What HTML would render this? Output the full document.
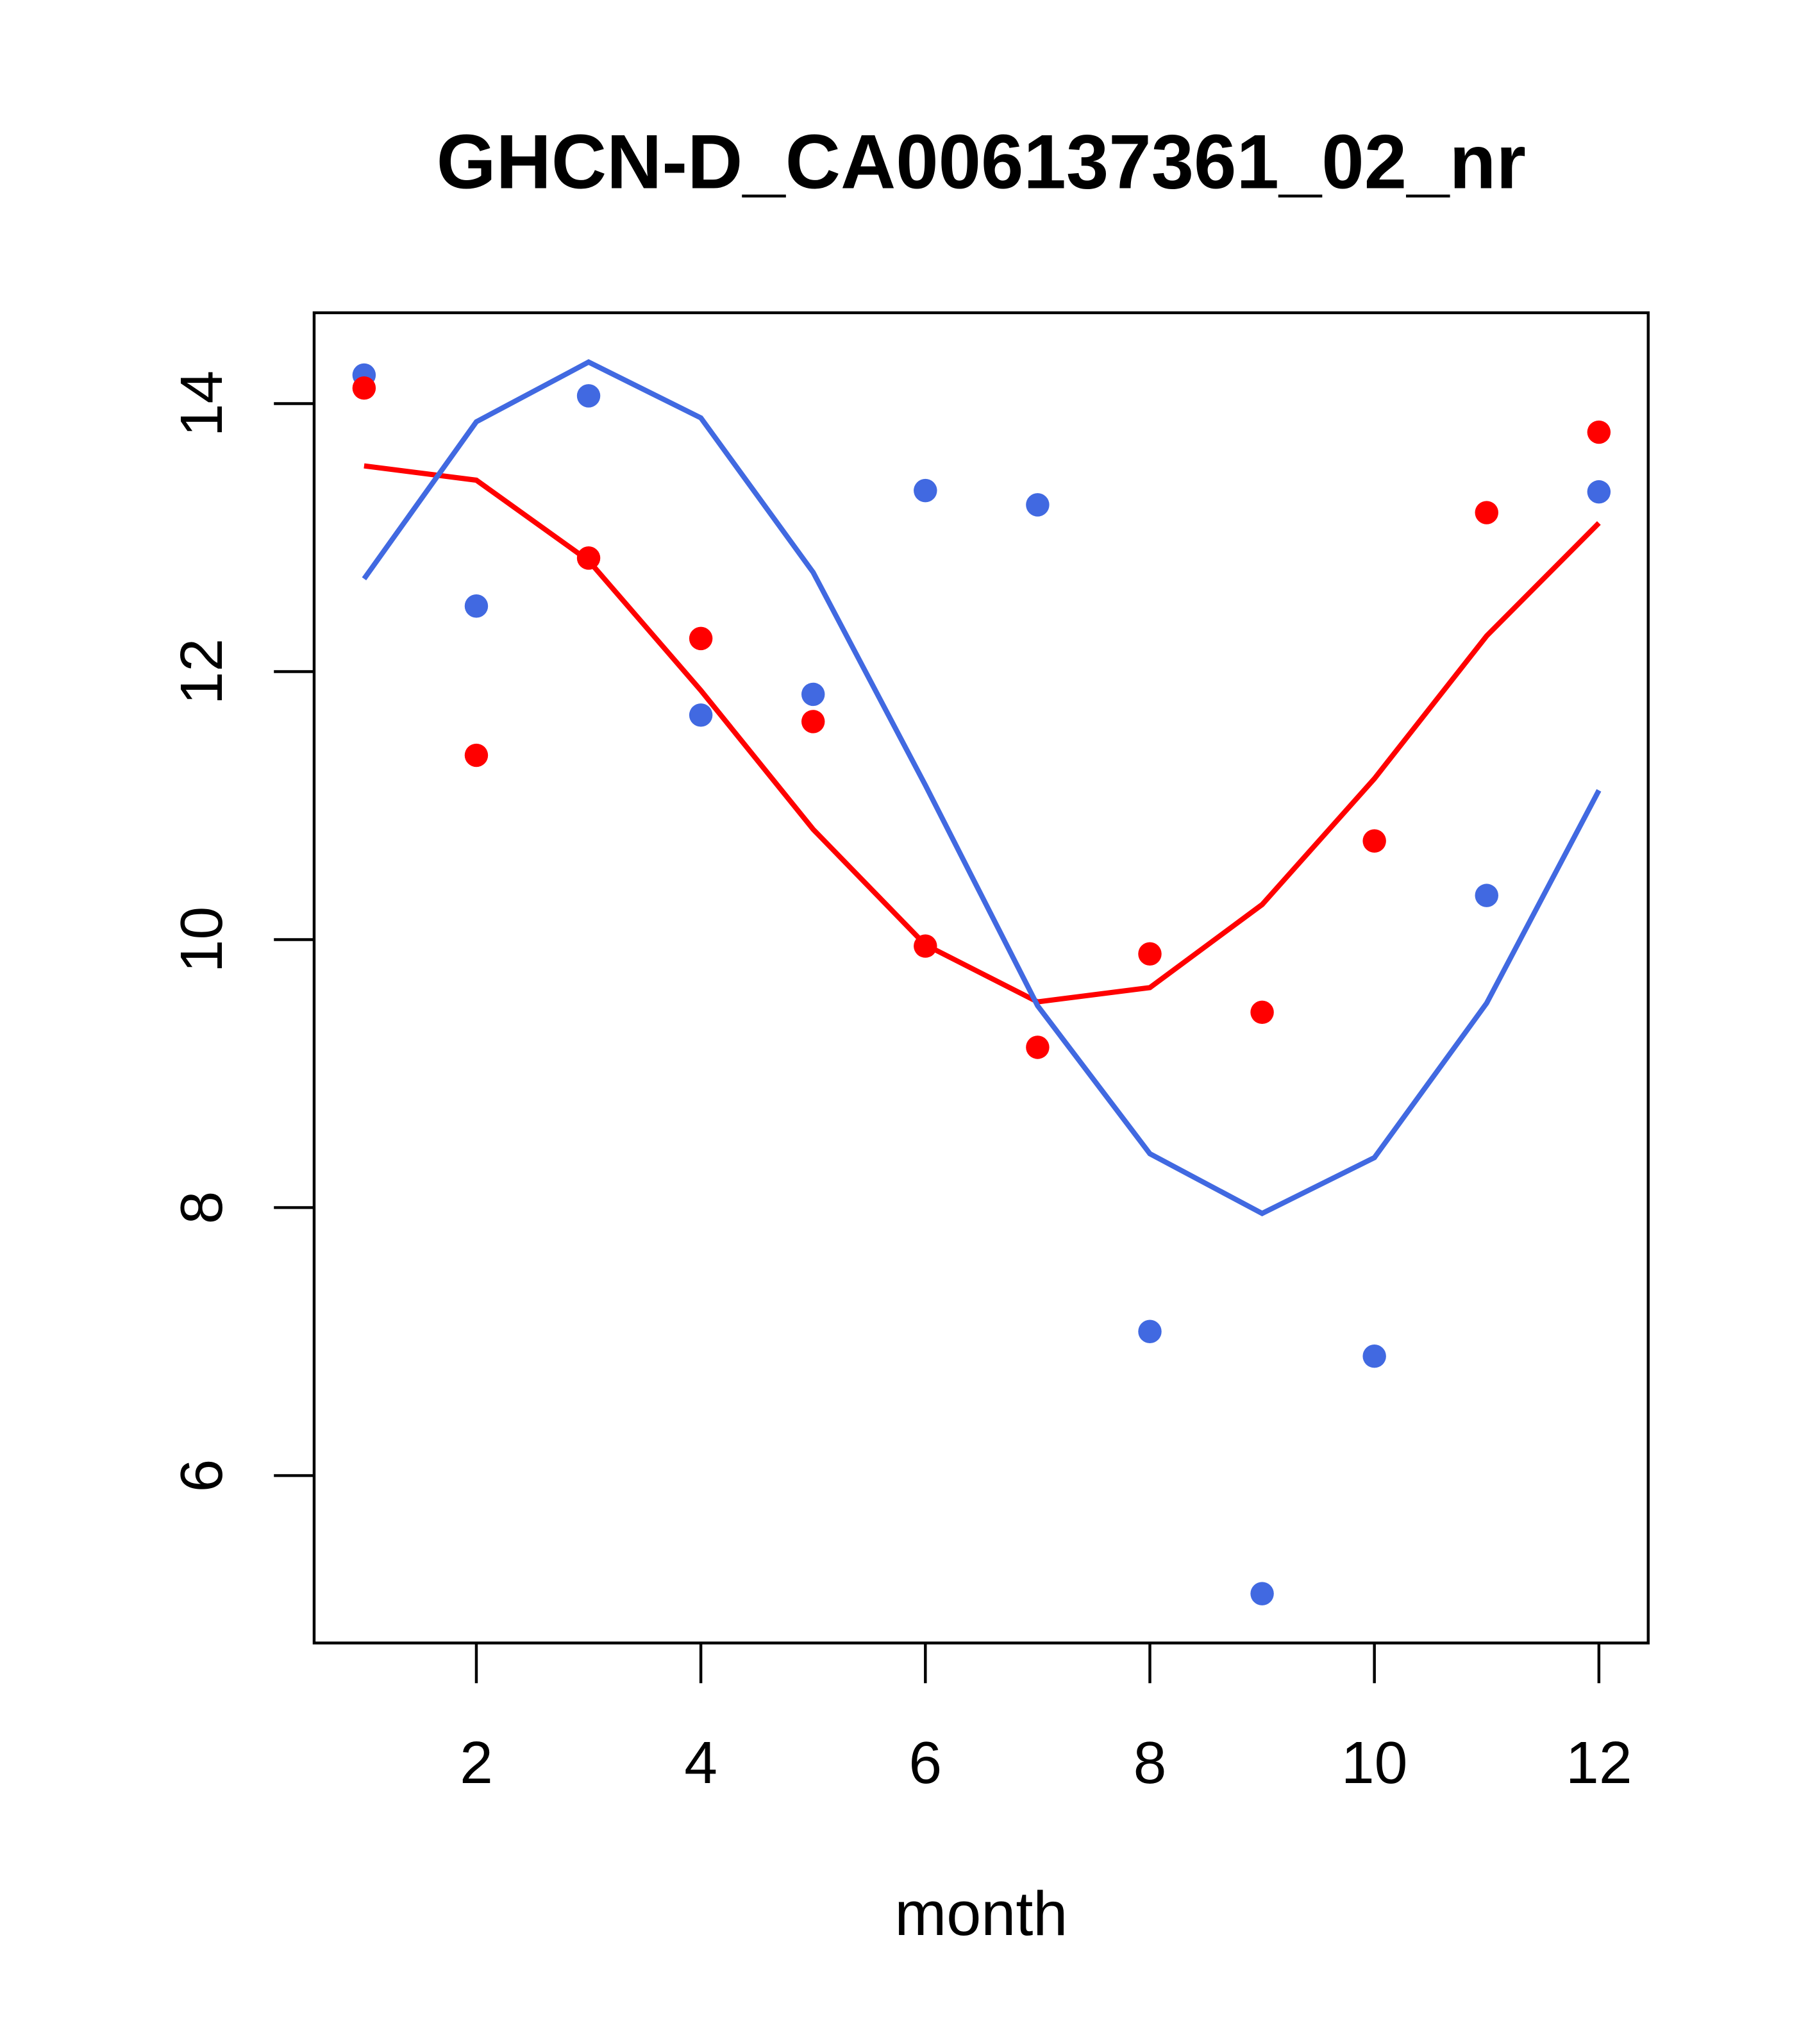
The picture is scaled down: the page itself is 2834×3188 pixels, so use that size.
<!DOCTYPE html>
<html><head><meta charset="utf-8"><style>
html,body{margin:0;padding:0;background:#fff;}
svg{display:block;}
text{font-family:"Liberation Sans",Arial,sans-serif;fill:#000;}
</style></head><body>
<svg width="2834" height="3188" viewBox="0 0 1400 1575" xmlns="http://www.w3.org/2000/svg">
<rect width="1400" height="1575" fill="#fff"/>
<text x="756" y="145" font-size="59" font-weight="bold" text-anchor="middle">GHCN-D_CA006137361_02_nr</text>
<rect x="242" y="241" width="1028" height="1025" fill="none" stroke="#000" stroke-width="2.2"/>
<g stroke="#000" stroke-width="2.2">
<line x1="367" y1="1266" x2="367" y2="1297"/><line x1="540" y1="1266" x2="540" y2="1297"/>
<line x1="713" y1="1266" x2="713" y2="1297"/><line x1="886" y1="1266" x2="886" y2="1297"/>
<line x1="1059" y1="1266" x2="1059" y2="1297"/><line x1="1232" y1="1266" x2="1232" y2="1297"/>
<line x1="242" y1="311" x2="211" y2="311"/><line x1="242" y1="517.5" x2="211" y2="517.5"/>
<line x1="242" y1="724" x2="211" y2="724"/><line x1="242" y1="930.5" x2="211" y2="930.5"/>
<line x1="242" y1="1137" x2="211" y2="1137"/>
</g>
<g font-size="46" text-anchor="middle">
<text x="367" y="1374">2</text><text x="540" y="1374">4</text><text x="713" y="1374">6</text>
<text x="886" y="1374">8</text><text x="1059" y="1374">10</text><text x="1232" y="1374">12</text>
<text transform="translate(171,311) rotate(-90)">14</text>
<text transform="translate(171,517.5) rotate(-90)">12</text>
<text transform="translate(171,724) rotate(-90)">10</text>
<text transform="translate(171,930.5) rotate(-90)">8</text>
<text transform="translate(171,1137) rotate(-90)">6</text>
<text x="756" y="1491" font-size="48">month</text>
</g>
<polyline fill="none" stroke="#ff0000" stroke-width="4" points="280.5,359 367,370 453.5,432 540,532 626.5,639 713,728 799.5,772 886,761 972.5,697 1059,600 1145.5,490 1232,403"/>
<polyline fill="none" stroke="#4169e1" stroke-width="4" points="280.5,446 367,325 453.5,279 540,322 626.5,441 713,605 799.5,775 886,889 972.5,935 1059,892 1145.5,773 1232,609"/>
<g fill="#4169e1">
<circle cx="280.5" cy="289" r="9"/><circle cx="367" cy="467" r="9"/><circle cx="453.5" cy="305" r="9"/>
<circle cx="540" cy="551" r="9"/><circle cx="626.5" cy="535" r="9"/><circle cx="713" cy="378" r="9"/>
<circle cx="799.5" cy="389" r="9"/><circle cx="886" cy="1026" r="9"/><circle cx="972.5" cy="1228" r="9"/>
<circle cx="1059" cy="1045" r="9"/><circle cx="1145.5" cy="690" r="9"/><circle cx="1232" cy="379" r="9"/>
</g>
<g fill="#ff0000">
<circle cx="280.5" cy="299" r="9"/><circle cx="367" cy="582" r="9"/><circle cx="453.5" cy="430" r="9"/>
<circle cx="540" cy="492" r="9"/><circle cx="626.5" cy="556" r="9"/><circle cx="713" cy="729" r="9"/>
<circle cx="799.5" cy="807" r="9"/><circle cx="886" cy="735" r="9"/><circle cx="972.5" cy="780" r="9"/>
<circle cx="1059" cy="648" r="9"/><circle cx="1145.5" cy="395" r="9"/><circle cx="1232" cy="333" r="9"/>
</g>
</svg>
</body></html>
